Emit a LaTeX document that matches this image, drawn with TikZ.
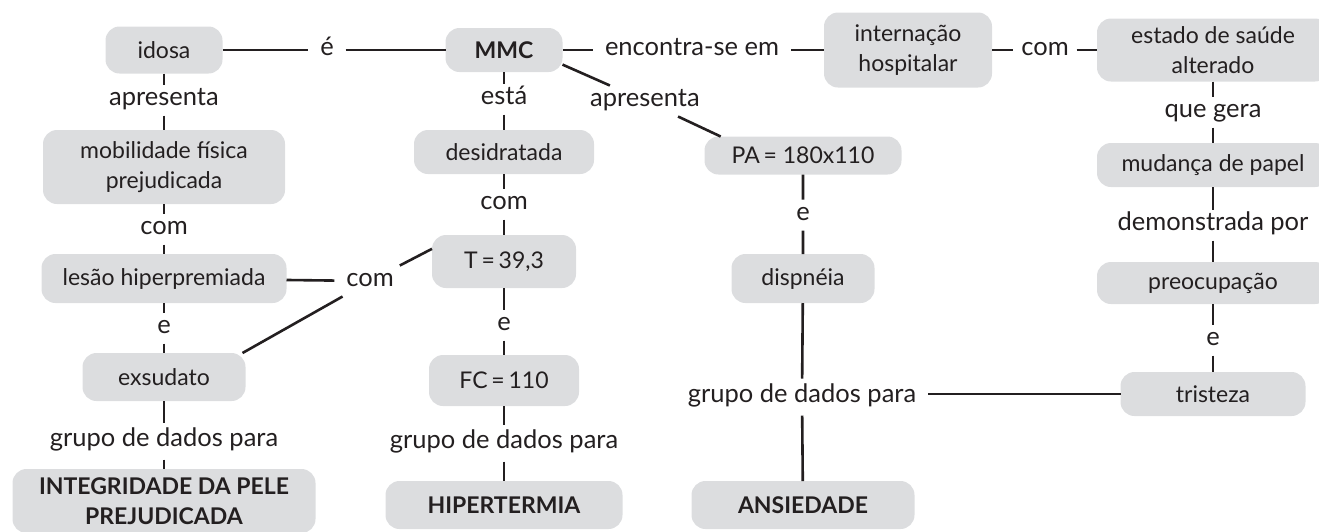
\documentclass[tikz,border=0pt]{standalone}
\usepackage{fontspec}
\setmainfont{Lato}
\definecolor{boxgray}{RGB}{220,221,223}
\definecolor{ink}{RGB}{35,31,32}

\begin{document}
\begin{tikzpicture}[x=1pt, y=-1pt,
  every node/.style={text=ink, font=\fontsize{25.5}{30}\selectfont, outer sep=0pt},
  box/.style={fill=boxgray, rounded corners=14pt, align=center, inner sep=0pt,
    font=\fontsize{23}{29.5}\selectfont},
  lbl/.style={inner xsep=12pt, inner ysep=4pt, text height=17pt, text depth=6pt},
  link/.style={draw=ink, line width=2.6pt}]
\useasboundingbox (0,0) rectangle (1319,531);

\node[box, minimum width=117pt, minimum height=47pt] (idosa) at (164,50) {idosa};
\node[box, minimum width=117pt, minimum height=44pt] (MMC) at (504,50) {\textbf{MMC}};
\node[box, minimum width=168pt, minimum height=75pt] (intern) at (908,50) {internação\\hospitalar};
\node[box, minimum width=232pt, minimum height=63pt] (estado) at (1213,50) {estado de saúde\\alterado};

\node[box, minimum width=242pt, minimum height=74pt] (mobil) at (164,167) {mobilidade física\\prejudicada};
\node[box, minimum width=180pt, minimum height=44pt] (desid) at (504,152) {desidratada};
\node[box, minimum width=197pt, minimum height=38pt] (PA) at (803,155.5) {PA\,= 180x110};
\node[box, minimum width=232pt, minimum height=44pt] (mudanca) at (1213,165) {mudança de papel};

\node[box, minimum width=245pt, minimum height=49pt] (lesao) at (164,278.5) {lesão hiperpremiada};
\node[box, minimum width=144pt, minimum height=53pt] (T) at (504,261.5) {T\,=\,39,3};
\node[box, minimum width=143pt, minimum height=49pt] (disp) at (803,278.5) {dispnéia};
\node[box, minimum width=232pt, minimum height=42pt] (preoc) at (1213,283) {preocupação};

\node[box, minimum width=163pt, minimum height=48pt] (exsud) at (164,377) {exsudato};
\node[box, minimum width=150pt, minimum height=51pt] (FC) at (504,380.5) {FC\,=\,110};
\node[box, minimum width=185pt, minimum height=44pt] (trist) at (1213,394) {tristeza};

\node[box, minimum width=303pt, minimum height=64pt] (integ) at (164,501) {\textbf{INTEGRIDADE DA PELE}\\\textbf{PREJUDICADA}};
\node[box, minimum width=237pt, minimum height=48pt] (hiper) at (504,505) {\textbf{HIPERTERMIA}};
\node[box, minimum width=223pt, minimum height=48pt] (ansied) at (803,505) {\textbf{ANSIEDADE}};

\node[lbl] (e1) at (327,50) {é};
\node[lbl] (enc) at (692,50) {encontra-se em};
\node[lbl, inner xsep=8pt] (com1) at (1045,50) {com};
\node[lbl] (apr1) at (164,100) {apresenta};
\node[lbl] (esta) at (504,99) {está};
\node[lbl] (apr2) at (645,101) {apresenta};
\node[lbl] (quegera) at (1213,112) {que gera};
\node[lbl] (com2) at (164,229) {com};
\node[lbl] (com3) at (504,204) {com};
\node[lbl] (e2) at (803,215) {e};
\node[lbl] (demo) at (1213,225) {demonstrada por};
\node[lbl] (com4) at (370,281) {com};
\node[lbl] (e3) at (164,328) {e};
\node[lbl] (e4) at (504,325) {e};
\node[lbl] (e5) at (1213,340) {e};
\node[lbl, inner ysep=7pt] (grp1) at (164,441) {grupo de dados para};
\node[lbl, inner ysep=7pt] (grp2) at (504,443) {grupo de dados para};
\node[lbl, inner ysep=7pt] (grp3) at (802,397) {grupo de dados para};

\draw[link] (idosa) -- (e1) -- (MMC) -- (enc) -- (intern) -- (com1) -- (estado);
\draw[link] (MMC.-14) -- (apr2) -- (PA.167);
\draw[link] (idosa) -- (apr1) -- (mobil) -- (com2) -- (lesao) -- (e3) -- (exsud) -- (grp1) -- (integ);
\draw[link] (MMC) -- (esta) -- (desid) -- (com3) -- (T) -- (e4) -- (FC) -- (grp2) -- (hiper);
\draw[link] (PA) -- (e2) -- (disp) -- (grp3) -- (ansied);
\draw[link] (estado) -- (quegera) -- (mudanca) -- (demo) -- (preoc) -- (e5) -- (trist);
\draw[link] (grp3.east |- trist) -- (trist);
\draw[link] (lesao) -- (com4) -- (T.170);
\draw[link] (com4) -- (exsud.17);
\end{tikzpicture}
\end{document}
